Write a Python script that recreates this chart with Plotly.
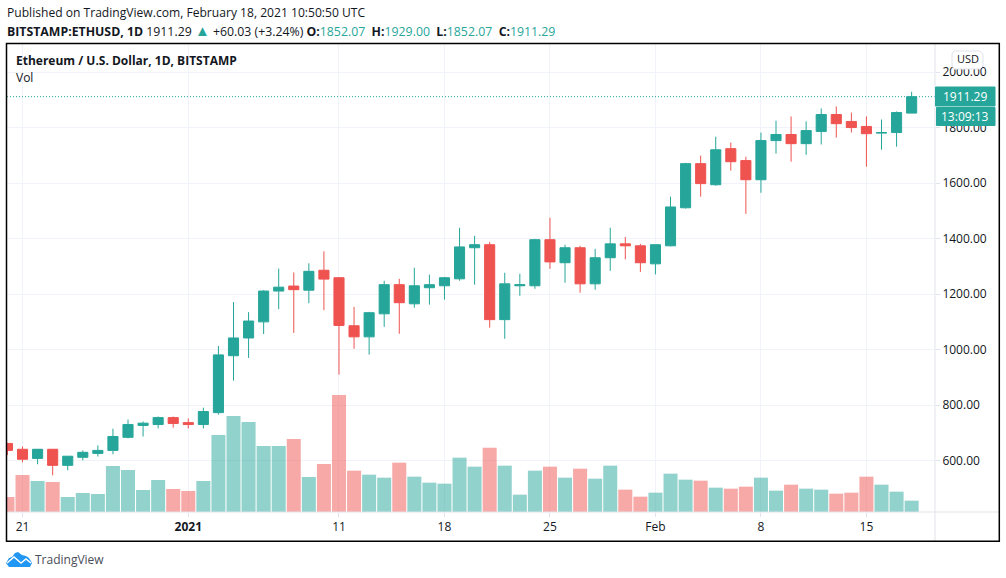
import pandas as pd
import plotly.graph_objects as go

# Daily candles, 2020-12-20 to 2021-02-18
dates = pd.date_range("2020-12-20", "2021-02-18", freq="D")
opens = [662, 641, 608, 641, 583, 612, 626, 637, 684, 727, 730, 755,
         737, 730, 773, 978, 1042, 1100, 1211, 1229, 1214, 1286, 1259, 1086, 1046, 1129, 1234, 1165, 1223, 1230, 1255,
         1367, 1378, 1108, 1230, 1230, 1396, 1313, 1367, 1237, 1331, 1381, 1374,
         1309, 1374, 1511, 1670, 1594, 1724, 1681, 1612, 1753, 1775, 1742, 1786, 1847, 1822, 1804, 1780, 1782, 1852.07]
closes = [637, 605, 641, 583, 616, 630, 637, 687, 730, 735, 755, 734,
          730, 777, 981, 1042, 1103, 1211, 1225, 1216, 1282, 1254, 1087, 1046, 1133, 1234, 1169, 1230, 1234, 1259, 1370,
          1378, 1108, 1237, 1234, 1396, 1316, 1367, 1237, 1331, 1381, 1374, 1313,
          1378, 1514, 1670, 1598, 1720, 1677, 1612, 1753, 1775, 1742, 1789, 1847, 1814, 1800, 1778, 1782, 1854, 1911.29]
highs = [664, 651, 642, 642, 617, 637, 655, 715, 748, 741, 759, 759,
         752, 791, 1013, 1171, 1135, 1214, 1292, 1278, 1311, 1354, 1261, 1154, 1136, 1248, 1255, 1295, 1270, 1262, 1439,
         1410, 1388, 1277, 1273, 1399, 1475, 1378, 1374, 1363, 1439, 1406, 1381,
         1378, 1551, 1673, 1699, 1767, 1746, 1695, 1782, 1825, 1840, 1822, 1869, 1876, 1854, 1840, 1829, 1858, 1929]
lows = [620, 594, 587, 547, 565, 601, 615, 623, 680, 687, 716, 719,
        716, 716, 766, 888, 970, 1056, 1146, 1060, 1167, 1142, 910, 1003, 982, 1082, 1057, 1151, 1162, 1180, 1248,
        1234, 1079, 1039, 1194, 1219, 1291, 1241, 1205, 1216, 1284, 1325, 1280,
        1271, 1372, 1508, 1551, 1590, 1645, 1489, 1565, 1706, 1677, 1702, 1739, 1764, 1782, 1659, 1720, 1731, 1852.07]
volumes = [45, 111, 93, 90, 45, 57, 54, 138, 126, 66, 96, 69,
           63, 93, 231, 288, 270, 198, 198, 219, 105, 144, 351, 124, 112, 103, 148, 106, 88, 85, 163,
           136, 193, 139, 52, 124, 136, 103, 130, 100, 139, 67, 46,
           58, 115, 97, 94, 73, 70, 76, 103, 64, 82, 70, 67, 55, 58, 106, 82, 61, 34]

price_ticks = [600, 800, 1000, 1200, 1400, 1600, 1800, 2000]
time_ticks = ["2020-12-21", "2021-01-01", "2021-01-11", "2021-01-18", "2021-01-25", "2021-02-01", "2021-02-08", "2021-02-15"]
time_labels = ["21", "<b>2021</b>", "11", "18", "25", "Feb", "8", "15"]

GREEN = "#26a69a"
RED = "#ef5350"
TEXT = "#131722"
GRID = "#f0f3fa"
EDGE = "#e0e3eb"
FONT = "Open Sans"

W, H = 1006, 578
L, R, T, B = 7, 935, 44, 512


# picture pixels to paper coordinates, for the furniture around the plot
def px(x):
    return (x - L) / (R - L)


def py(y):
    return (B - y) / (B - T)


def path(points):
    return "M" + " L".join(f"{px(x)},{py(y)}" for x, y in points) + " Z"


def note(x, y, text, size=12, color=TEXT, anchor="left"):
    fig.add_annotation(x=px(x), y=py(y), xref="paper", yref="paper", text=text, showarrow=False,
                       xanchor=anchor, yanchor="middle", align=anchor, borderpad=0,
                       font=dict(family=FONT, size=size, color=color))


def box(x0, y0, x1, y1, fill, line=None):
    fig.add_shape(type="rect", xref="paper", yref="paper", x0=px(x0), x1=px(x1), y0=py(y0), y1=py(y1),
                  fillcolor=fill, line=dict(color=line or fill, width=1), layer="above")


def seg(x0, y0, x1, y1, color=EDGE, width=1):
    fig.add_shape(type="line", xref="paper", yref="paper", x0=px(x0), x1=px(x1), y0=py(y0), y1=py(y1),
                  line=dict(color=color, width=width), layer="above")


fig = go.Figure()

vol_colors = ["rgba(38,166,154,0.5)" if c >= o else "rgba(239,83,80,0.5)" for o, c in zip(opens, closes)]
fig.add_trace(go.Bar(x=dates, y=volumes, marker=dict(color=vol_colors, line_width=0), yaxis="y"))
fig.add_trace(go.Candlestick(x=dates, open=opens, high=highs, low=lows, close=closes, yaxis="y2",
                             increasing=dict(line=dict(color=GREEN, width=1), fillcolor=GREEN),
                             decreasing=dict(line=dict(color=RED, width=1), fillcolor=RED),
                             whiskerwidth=0))

fig.update_layout(
    width=W, height=H, margin=dict(l=L, r=W - R, t=T, b=H - B, autoexpand=False),
    paper_bgcolor="white", plot_bgcolor="white", showlegend=False, bargap=0.07,
    boxgap=0.33, boxgroupgap=0,
    font=dict(family=FONT, size=12, color=TEXT),
    xaxis=dict(type="date", range=["2020-12-19 23:17", "2021-02-19 13:12"], rangeslider_visible=False,
               tickvals=time_ticks, ticktext=time_labels, tickangle=0, ticks="outside", ticklen=4, tickcolor=EDGE,
               showgrid=True, gridcolor=GRID, zeroline=False, showline=False),
    yaxis=dict(range=[0, 1404], visible=False, showgrid=False, fixedrange=True),
    yaxis2=dict(range=[415, 2101], overlaying="y", side="right", tickvals=price_ticks,
                ticktext=[f"{v:.2f}" for v in price_ticks], ticks="outside", ticklen=4, tickcolor=EDGE,
                showgrid=True, gridcolor=GRID, zeroline=False, showline=False),
)

# last price line
fig.add_shape(type="line", xref="paper", yref="y2", x0=0, x1=1, y0=closes[-1], y1=closes[-1],
              line=dict(color=GREEN, width=1, dash="1px,2px"))

# frame and separators
seg(7, 512, 999, 512)
seg(935, 44, 935, 541)
fig.add_shape(type="rect", xref="paper", yref="paper", x0=px(6.5), x1=px(999.3), y0=py(43.5), y1=py(541.3),
              line=dict(color="#000000", width=1.5), layer="above")

# price and countdown labels
box(935.5, 87, 995, 106, GREEN)
box(936.5, 107.5, 995, 125.5, GREEN)
note(965, 96.5, f"{closes[-1]:.2f}", color="white", anchor="center")
note(965.5, 116.5, "13:09:13", color="white", anchor="center")

# USD button
fig.add_shape(type="path", xref="paper", yref="paper", layer="above", fillcolor="white",
              line=dict(color=EDGE, width=1),
              path=path([(954, 51), (980, 51), (983, 54), (983, 66), (980, 69), (954, 69), (952, 66), (952, 54)]))
note(967.5, 58.5, "USD", size=11, anchor="center")

# header text
note(6, 12.5, "Published on TradingView.com, February 18, 2021 10:50:50 UTC", size=12.1)
teal = f"<span style='color:{GREEN}'>"
gap = "&nbsp;&nbsp;"
note(6, 29.5, f"<b>BITSTAMP:ETHUSD, 1D</b> 1911.29 <span style='color:{GREEN};font-size:15px'>▲</span> +60.03 (+3.24%) "
              f"<b>O:</b>{teal}1852.07</span>{gap}<b>H:</b>{teal}1929.00</span>{gap}"
              f"<b>L:</b>{teal}1852.07</span>{gap}<b>C:</b>{teal}1911.29</span>", size=12.3)
note(15, 60.5, "<b>Ethereum / U.S. Dollar, 1D, BITSTAMP</b>", size=12)
note(15, 77.5, "Vol", size=12)

# TradingView logo
fig.add_shape(type="path", xref="paper", yref="paper", layer="above", fillcolor="#2196f3", line_width=0,
              path=path([(6, 563), (9, 558), (12, 557), (15, 553), (18, 552), (22, 555), (26, 556), (29, 558),
                         (32, 563), (30, 567), (9, 567)]))
fig.add_shape(type="path", xref="paper", yref="paper", layer="above", line=dict(color="white", width=1.5),
              path="M" + " L".join(f"{px(x)},{py(y)}" for x, y in [(7, 563), (14, 557), (21, 563), (26, 559), (31, 563)]))
note(34, 559.5, "TradingView", size=12, color="#4a4e59")

# page margin would push the figure 8px off the window
fig.write_html("out.html", config={"displayModeBar": False}, post_script="document.body.style.margin='0';")
